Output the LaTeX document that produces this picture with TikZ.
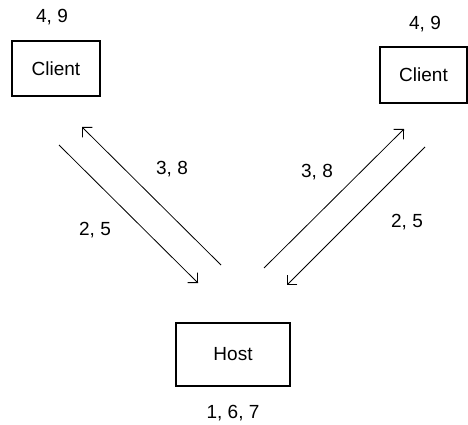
\documentclass[tikz,border=0pt]{standalone}
\usepackage{fontspec}
\setmainfont{Liberation Sans}
\usetikzlibrary{arrows.meta}
\begin{document}
\begin{tikzpicture}[x=1pt,y=-1pt,
  box/.style={draw, line width=1.3pt, inner sep=0pt, font=\fontsize{19}{22}\selectfont},
  lbl/.style={inner sep=0pt, font=\fontsize{19}{22}\selectfont},
  conn/.style={line width=0.8pt, -{Straight Barb[length=7pt,width=14pt,line width=0.9pt]}}]
\useasboundingbox (0,0) rectangle (468,425);
\node[box, minimum width=88pt, minimum height=55pt] (c1) at (56,68.5) {Client};
\node[box, minimum width=87pt, minimum height=56pt] (c2) at (423.5,75) {Client};
\node[box, minimum width=114pt, minimum height=63pt] (h) at (233,354.5) {Host};
\node[lbl] (l1) at (52,17) {4, 9};
\node[lbl] (l2) at (425,24) {4, 9};
\node[lbl] (l3) at (233,413) {1, 6, 7};
\node[lbl] (a1) at (172,169) {3, 8};
\node[lbl] (a2) at (95,230) {2, 5};
\node[lbl] (a3) at (317,172) {3, 8};
\node[lbl] (a4) at (407,222) {2, 5};
\coordinate (p1) at (59,145);
\coordinate (p2) at (198,283);
\coordinate (p3) at (221,265);
\coordinate (p4) at (82,127);
\coordinate (p5) at (264,268);
\coordinate (p6) at (404,129);
\coordinate (p7) at (425,147);
\coordinate (p8) at (287,285);
\draw[conn] (p1) -- (p2);
\draw[conn] (p3) -- (p4);
\draw[conn] (p5) -- (p6);
\draw[conn] (p7) -- (p8);
\end{tikzpicture}
\end{document}
